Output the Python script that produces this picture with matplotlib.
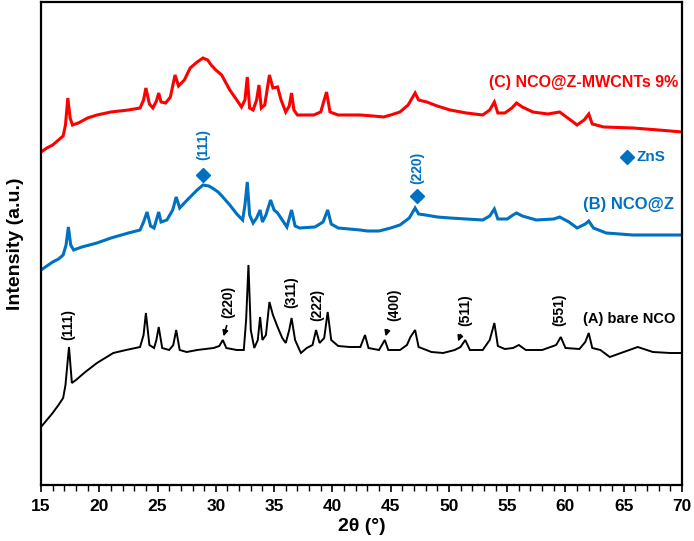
import numpy as np
import matplotlib
matplotlib.use("Agg")
import matplotlib.pyplot as plt

# ---- data (2theta in degrees, intensity in arbitrary units, offset stacked) ----
red_x = [15.0, 15.5, 16.0, 16.5, 16.9, 17.1, 17.3, 17.5, 17.7, 18.2, 19.0, 19.8, 21.0, 22.5, 23.5, 23.8, 24.0, 24.3,
         24.6, 24.9, 25.1, 25.3, 25.7, 26.1, 26.5, 26.8, 27.3, 27.8, 28.4, 28.9, 29.3, 29.6, 30.0, 30.5, 31.2, 31.8,
         32.2, 32.5, 32.7, 32.9, 33.2, 33.5, 33.7, 33.9, 34.2, 34.6, 34.9, 35.3, 35.6, 36.0, 36.3, 36.5, 36.7, 37.0,
         38.4, 39.0, 39.5, 39.8, 40.5, 42.4, 43.5, 44.4, 45.0, 45.8, 46.5, 47.1, 47.4, 48.1, 49.0, 50.1, 51.5, 52.9,
         53.5, 53.9, 54.2, 54.8, 55.4, 55.8, 56.3, 57.2, 58.5, 59.5, 60.2, 61.0, 61.6, 62.0, 62.3, 63.3, 65.8, 68.0, 70.0]
red_y = [333, 337, 340, 345, 349, 360, 387, 367, 360, 362, 367, 370, 373, 375, 377, 385, 397, 381,
         377, 384, 392, 383, 382, 388, 410, 399, 405, 417, 423, 427, 425, 420, 415, 410, 395, 385,
         378, 385, 408, 377, 375, 385, 400, 377, 380, 410, 397, 398, 385, 373, 379, 392, 375, 370,
         370, 373, 393, 373, 370, 370, 369, 368, 370, 373, 380, 392, 385, 383, 379, 375, 372, 370,
         375, 383, 372, 372, 377, 382, 378, 373, 371, 373, 367, 360, 365, 371, 361, 358, 357, 355, 353]

blue_x = [15.0, 15.5, 16.0, 16.5, 16.9, 17.15, 17.35, 17.55, 17.8, 18.5, 19.8, 21.0, 22.5, 23.5, 23.8, 24.1, 24.4,
          24.7, 24.9, 25.1, 25.3, 25.8, 26.3, 26.6, 26.9, 27.3, 27.8, 28.4, 28.9, 29.4, 29.7, 30.2, 30.6, 31.2,
          31.8, 32.3, 32.5, 32.7, 32.9, 33.2, 33.5, 33.8, 34.0, 34.3, 34.7, 35.0, 35.3, 35.7, 36.1, 36.5, 36.8,
          37.2, 38.5, 39.2, 39.6, 39.9, 40.5, 42.4, 43.0, 44.0, 45.0, 45.8, 46.6, 47.1, 47.4, 48.0, 49.0, 50.1,
          51.5, 52.9, 53.5, 53.9, 54.2, 55.0, 55.5, 55.8, 56.3, 57.5, 59.0, 59.5, 60.3, 61.0, 61.7, 62.0, 62.4,
          63.5, 65.8, 68.0, 70.0]
blue_y = [215, 219, 223, 226, 230, 240, 258, 240, 235, 238, 242, 247, 252, 255, 263, 273, 259,
          257, 265, 273, 263, 265, 275, 288, 277, 282, 288, 295, 300, 299, 297, 293, 288, 280,
          271, 265, 280, 303, 270, 262, 267, 275, 263, 270, 285, 275, 272, 265, 258, 275, 259,
          257, 258, 263, 275, 261, 257, 255, 254, 254, 257, 260, 267, 277, 271, 270, 268, 267,
          266, 265, 269, 276, 266, 266, 270, 272, 269, 265, 266, 268, 263, 257, 261, 264, 257,
          252, 250, 250, 250]

black_x = [15.0, 15.5, 16.0, 16.5, 16.9, 17.1, 17.4, 17.65, 18.0, 18.8, 19.8, 20.5, 21.2, 22.3, 23.5, 23.8, 24.0,
           24.3, 24.7, 24.9, 25.1, 25.4, 26.0, 26.35, 26.6, 26.9, 27.5, 28.4, 29.8, 30.3, 30.6, 30.9, 31.8, 32.4,
           32.6, 32.8, 33.0, 33.3, 33.6, 33.8, 34.0, 34.3, 34.6, 34.9, 35.3, 35.7, 36.0, 36.3, 36.5, 36.8, 37.3,
           37.8, 38.3, 38.6, 38.9, 39.3, 39.6, 39.9, 40.5, 41.5, 42.4, 42.8, 43.1, 44.0, 44.5, 44.8, 45.8, 46.4,
           46.7, 47.1, 47.4, 48.5, 49.5, 50.5, 51.0, 51.4, 51.8, 52.9, 53.5, 53.9, 54.2, 54.8, 55.5, 56.0, 56.6,
           58.0, 59.2, 59.6, 60.0, 61.2, 61.7, 62.0, 62.3, 63.0, 63.8, 65.0, 66.2, 67.5, 69.0, 70.0]
black_y = [58, 65, 72, 80, 87, 100, 138, 102, 105, 113, 122, 127, 132, 135, 138, 150, 172,
           140, 137, 145, 158, 137, 135, 140, 155, 135, 133, 135, 137, 139, 145, 137, 135, 135,
           165, 220, 155, 137, 145, 168, 145, 150, 183, 170, 158, 147, 142, 155, 167, 145, 132,
           137, 140, 155, 142, 147, 173, 145, 139, 138, 138, 150, 137, 135, 145, 135, 135, 140,
           148, 155, 138, 133, 132, 135, 138, 145, 135, 135, 145, 162, 139, 136, 137, 140, 135,
           135, 140, 148, 137, 136, 143, 152, 137, 135, 128, 133, 138, 133, 132, 132]

series_labels = ["(C) NCO@Z-MWCNTs 9%", "(B) NCO@Z", "(A) bare NCO"]

# NCO reflections (bare NCO trace)
nco_hkl = ["(111)", "(220)", "(311)", "(222)", "(400)", "(511)", "(551)"]
nco_pos = [17.3, 31.05, 36.5, 38.7, 45.3, 51.4, 59.5]
nco_lab_y = [160, 183, 193, 180, 180, 175, 175]

# ZnS reflections (marked on NCO@Z trace)
zns_hkl = ["(111)", "(220)"]
zns_pos = [28.9, 47.25]
zns_mark_y = [310, 289]
zns_lab_y = [340, 317]

RED = "#FF0000"
BLUE = "#0070C0"
FONT = ["Liberation Sans", "DejaVu Sans"]

fig = plt.figure(figsize=(6.94, 5.41), dpi=100)
ax = fig.add_axes([41 / 694, 1 - 485 / 541, (682 - 41) / 694, (485 - 2) / 541])

ax.plot(red_x, red_y, color=RED, lw=2.2, solid_joinstyle="miter")
ax.plot(blue_x, blue_y, color=BLUE, lw=2.2, solid_joinstyle="miter")
ax.plot(black_x, black_y, color="black", lw=1.4, solid_joinstyle="miter")

ax.set_xlim(15, 70)
ax.set_ylim(0, 483)

ax.set_xticks(np.arange(15, 71, 5))
ax.set_xticks(np.arange(15, 71, 1), minor=True)
ax.set_yticks([])
ax.tick_params(axis="x", which="major", direction="out", length=5, width=1.2, pad=5)
ax.tick_params(axis="x", which="minor", direction="out", length=4, width=1.0)
for lab in ax.get_xticklabels():
    lab.set_fontfamily(FONT)
    lab.set_fontweight("bold")
    lab.set_fontsize(12.5)
for sp in ax.spines.values():
    sp.set_linewidth(1.6)

ax.set_xlabel("2θ (°)", fontsize=14, fontweight="bold", family=FONT, labelpad=3)
ax.set_ylabel("Intensity (a.u.)", fontsize=14, fontweight="bold", family=FONT, labelpad=12)

# series labels
ax.text(69.7, 403, series_labels[0], color=RED, fontsize=11.5, fontweight="bold", family=FONT,
        ha="right", va="center")
ax.text(69.3, 280, series_labels[1], color=BLUE, fontsize=12, fontweight="bold", family=FONT,
        ha="right", va="center")
ax.text(69.4, 166, series_labels[2], color="black", fontsize=10.5, fontweight="bold", family=FONT,
        ha="right", va="center")

# ZnS legend
ax.plot([65.3], [328], marker="D", color=BLUE, markersize=7, ls="none")
ax.text(66.1, 328, "ZnS", color=BLUE, fontsize=11, fontweight="bold", family=FONT, ha="left", va="center")

# ZnS markers
for h, xp, my, ly in zip(zns_hkl, zns_pos, zns_mark_y, zns_lab_y):
    ax.plot([xp], [my], marker="D", color=BLUE, markersize=7, ls="none")
    ax.text(xp, ly, h, color=BLUE, fontsize=10, fontweight="bold", family=FONT, rotation=90,
            ha="center", va="center")

# NCO labels
for h, xp, ly in zip(nco_hkl, nco_pos, nco_lab_y):
    ax.text(xp, ly, h, color="black", fontsize=10, fontweight="bold", family=FONT, rotation=90,
            ha="center", va="center")

# small arrows
arrow_kw = dict(arrowstyle="-|>", color="black", lw=1.2, mutation_scale=8)
ax.annotate("", xy=(30.6, 146), xytext=(31.0, 162), arrowprops=arrow_kw)
ax.annotate("", xy=(44.5, 146), xytext=(44.8, 158), arrowprops=arrow_kw)
ax.annotate("", xy=(50.7, 141), xytext=(51.1, 153), arrowprops=arrow_kw)

fig.savefig("out.png", dpi=100)
